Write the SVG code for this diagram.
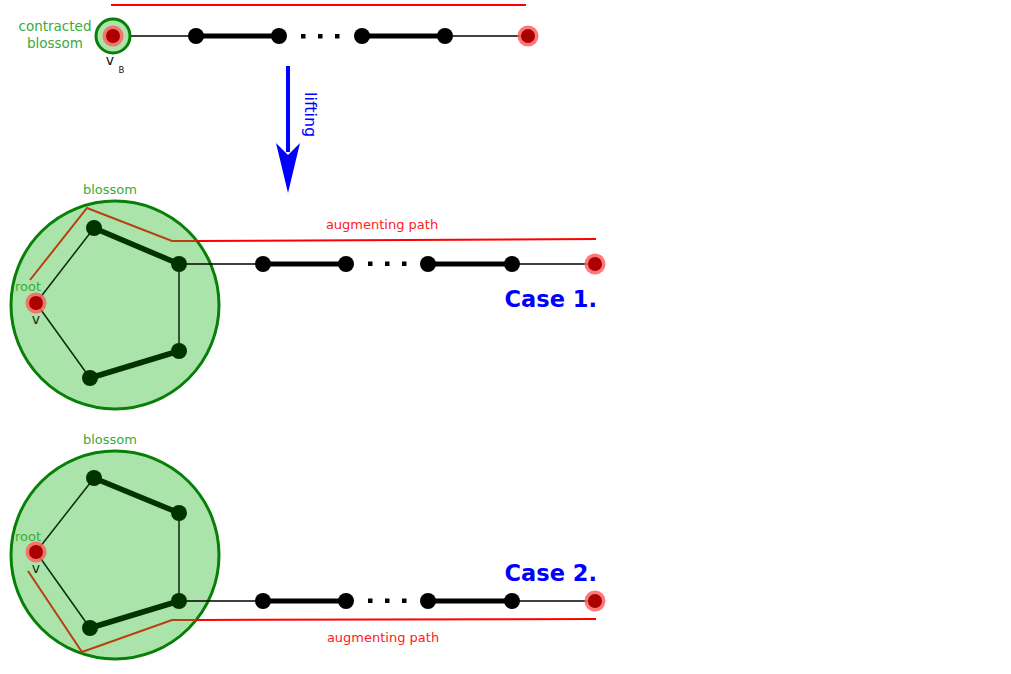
<svg xmlns="http://www.w3.org/2000/svg" width="1011" height="674" viewBox="0 0 1011 674">
<style>
.lbl{font-family:"DejaVu Sans","Liberation Sans",sans-serif}
.g{fill:#3aaa3a;font-size:13.5px}
.gs{fill:#3aaa3a;font-size:13px}
.red{fill:#ff2020;font-size:13px}
.case{fill:#0000ff;font-size:22.5px;font-weight:bold}
.thin{stroke:#000;stroke-width:1.5;fill:none}
.thick{stroke:#000;stroke-width:5;fill:none}
.bthin{stroke:#0a2a0a;stroke-width:1.5;fill:none}
.bthick{stroke:#003300;stroke-width:5.5;fill:none}
.bl{fill:#aae4aa;stroke:#088008;stroke-width:3}
.aug{stroke:#ff0000;stroke-width:2;fill:none}
.augin{stroke:#b84010;stroke-width:2;fill:none}
.bn{fill:#000}
.gn{fill:#003300}
.dot{fill:#000}
</style>
<defs>
<g id="rnode"><circle r="10.5" fill="#ff6060" opacity="0.85"/><circle r="7" fill="#aa0000"/></g>
</defs>

<g id="connectors">
<line class="aug" x1="111" y1="5" x2="526" y2="5"/>
<line class="thin" x1="113" y1="36" x2="196" y2="36"/>
<line class="thick" x1="196" y1="36" x2="279" y2="36"/>
<line class="thick" x1="362" y1="36" x2="445" y2="36"/>
<line class="thin" x1="445" y1="36" x2="528" y2="36"/>
<line x1="288" y1="66" x2="288" y2="152" stroke="#0000ff" stroke-width="4"/>
<path d="M276,143 L288,193 L300,143 L288,155 Z" fill="#0000ff"/>
</g>

<g id="top-row">
<circle cx="113" cy="36" r="17" class="bl" stroke-width="3.5"/>
<use href="#rnode" x="113" y="36"/>
<circle class="bn" cx="196" cy="36" r="8"/>
<circle class="bn" cx="279" cy="36" r="8"/>
<rect class="dot" x="301" y="34" width="4.5" height="4.5"/>
<rect class="dot" x="318" y="34" width="4.5" height="4.5"/>
<rect class="dot" x="335" y="34" width="4.5" height="4.5"/>
<circle class="bn" cx="362" cy="36" r="8"/>
<circle class="bn" cx="445" cy="36" r="8"/>
<use href="#rnode" x="528" y="36"/>
<text class="lbl g" x="55" y="31" text-anchor="middle">contracted</text>
<text class="lbl g" x="55" y="48" text-anchor="middle">blossom</text>
<text class="lbl" x="110" y="65" text-anchor="middle" font-size="14" fill="#111">v</text>
<text class="lbl" x="121.5" y="72.5" text-anchor="middle" font-size="8.5" fill="#111">B</text>
<text class="lbl" x="0" y="0" font-size="16" fill="#0000ff" transform="translate(305,92) rotate(90)">lifting</text>
</g>

<g id="case1">
<circle cx="115" cy="305" r="104" class="bl"/>
<polyline class="augin" points="30,280 87,208 172,241 196,241"/>
<line class="aug" x1="196" y1="241" x2="596" y2="239"/>
<line class="bthin" x1="36" y1="303" x2="94" y2="228"/>
<line class="bthick" x1="94" y1="228" x2="179" y2="264"/>
<line class="bthin" x1="179" y1="264" x2="179" y2="351"/>
<line class="bthick" x1="179" y1="351" x2="90" y2="378"/>
<line class="bthin" x1="90" y1="378" x2="36" y2="303"/>
<line class="thin" x1="179" y1="264" x2="263" y2="264"/>
<line class="thick" x1="263" y1="264" x2="346" y2="264"/>
<line class="thick" x1="428" y1="264" x2="512" y2="264"/>
<line class="thin" x1="512" y1="264" x2="595" y2="264"/>
<circle class="gn" cx="94" cy="228" r="8"/>
<circle class="gn" cx="179" cy="264" r="8"/>
<circle class="gn" cx="179" cy="351" r="8"/>
<circle class="gn" cx="90" cy="378" r="8"/>
<use href="#rnode" x="36" y="303"/>
<circle class="bn" cx="263" cy="264" r="8"/>
<circle class="bn" cx="346" cy="264" r="8"/>
<rect class="dot" x="368" y="261.5" width="4.5" height="4.5"/>
<rect class="dot" x="385" y="261.5" width="4.5" height="4.5"/>
<rect class="dot" x="402" y="261.5" width="4.5" height="4.5"/>
<circle class="bn" cx="428" cy="264" r="8"/>
<circle class="bn" cx="512" cy="264" r="8"/>
<use href="#rnode" x="595" y="264"/>
<text class="lbl gs" x="110" y="194" text-anchor="middle">blossom</text>
<text class="lbl red" x="382" y="229" text-anchor="middle">augmenting path</text>
<text class="lbl case" x="597" y="307" text-anchor="end">Case 1.</text>
<text class="lbl gs" x="28" y="291" text-anchor="middle">root</text>
<text class="lbl" x="36" y="324" text-anchor="middle" font-size="14" fill="#113311">v</text>
</g>

<g id="case2">
<circle cx="115" cy="555" r="104" class="bl"/>
<polyline class="augin" points="28,571 82,652 172,620 196,620"/>
<line class="aug" x1="196" y1="620" x2="596" y2="619"/>
<line class="bthin" x1="36" y1="552" x2="94" y2="478"/>
<line class="bthick" x1="94" y1="478" x2="179" y2="513"/>
<line class="bthin" x1="179" y1="513" x2="179" y2="601"/>
<line class="bthick" x1="179" y1="601" x2="90" y2="628"/>
<line class="bthin" x1="90" y1="628" x2="36" y2="552"/>
<line class="thin" x1="179" y1="601" x2="263" y2="601"/>
<line class="thick" x1="263" y1="601" x2="346" y2="601"/>
<line class="thick" x1="428" y1="601" x2="512" y2="601"/>
<line class="thin" x1="512" y1="601" x2="595" y2="601"/>
<circle class="gn" cx="94" cy="478" r="8"/>
<circle class="gn" cx="179" cy="513" r="8"/>
<circle class="gn" cx="179" cy="601" r="8"/>
<circle class="gn" cx="90" cy="628" r="8"/>
<use href="#rnode" x="36" y="552"/>
<circle class="bn" cx="263" cy="601" r="8"/>
<circle class="bn" cx="346" cy="601" r="8"/>
<rect class="dot" x="368" y="598.5" width="4.5" height="4.5"/>
<rect class="dot" x="385" y="598.5" width="4.5" height="4.5"/>
<rect class="dot" x="402" y="598.5" width="4.5" height="4.5"/>
<circle class="bn" cx="428" cy="601" r="8"/>
<circle class="bn" cx="512" cy="601" r="8"/>
<use href="#rnode" x="595" y="601"/>
<text class="lbl gs" x="110" y="444" text-anchor="middle">blossom</text>
<text class="lbl red" x="383" y="642" text-anchor="middle">augmenting path</text>
<text class="lbl case" x="597" y="581" text-anchor="end">Case 2.</text>
<text class="lbl gs" x="28" y="541" text-anchor="middle">root</text>
<text class="lbl" x="36" y="573" text-anchor="middle" font-size="14" fill="#113311">v</text>
</g>
</svg>
